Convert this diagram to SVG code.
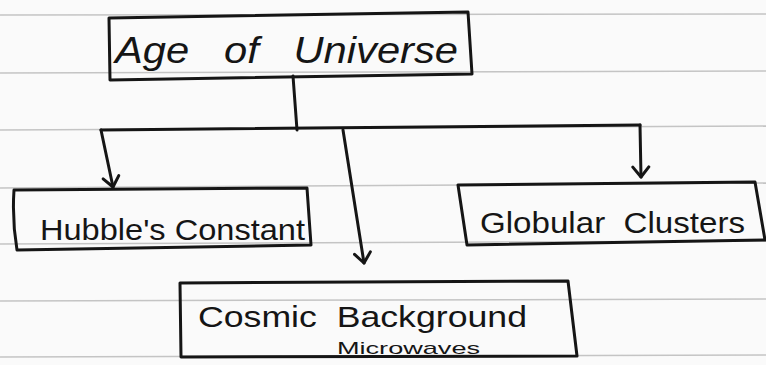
<svg xmlns="http://www.w3.org/2000/svg" width="766" height="365" viewBox="0 0 766 365">
<style>
.paper{stroke:#c4c4c4;stroke-width:1.5;fill:none}
.box{fill:none;stroke:#151515;stroke-width:3;stroke-linejoin:round}
.edge{fill:none;stroke:#151515;stroke-width:3;stroke-linecap:round}
.t{font-family:"Liberation Sans","DejaVu Sans",sans-serif;fill:#151515;white-space:pre}
</style>
<defs>
<marker id="arr" viewBox="0 0 20 20" refX="18" refY="10" markerWidth="20" markerHeight="20" markerUnits="userSpaceOnUse" orient="auto">
<path d="M8,2 L18,10 L8,18" fill="none" stroke="#151515" stroke-width="3" stroke-linecap="round" stroke-linejoin="round"/>
</marker>
</defs>
<rect width="766" height="365" fill="#fafafa"/>
<g id="paper-lines">
<line class="paper" x1="0" y1="15" x2="766" y2="14"/>
<line class="paper" x1="0" y1="73" x2="766" y2="71"/>
<line class="paper" x1="0" y1="130" x2="766" y2="126"/>
<line class="paper" x1="0" y1="188" x2="766" y2="183"/>
<line class="paper" x1="0" y1="244" x2="766" y2="241"/>
<line class="paper" x1="0" y1="301" x2="766" y2="299"/>
<line class="paper" x1="0" y1="357" x2="766" y2="355"/>
</g>
<g id="connectors">
<path class="edge" d="M293,76 L297,130"/>
<path class="edge" d="M101,130 L640,125"/>
<path class="edge" d="M101,130 L113,187" marker-end="url(#arr)"/>
<path class="edge" d="M343,130 L364,263" marker-end="url(#arr)"/>
<path class="edge" d="M640,125 L641,177" marker-end="url(#arr)"/>
</g>
<g id="age">
<path class="box" d="M109,18 L468,12 L472,74 L110,80 Z"/>
<text class="t" x="115" y="63" font-size="36" textLength="343" lengthAdjust="spacingAndGlyphs" font-style="italic">Age   of   Universe</text>
</g>
<g id="hubble">
<path class="box" d="M14,190 L307,188 L311,245 L17,250 Q12,220 14,190 Z"/>
<text class="t" x="40" y="240" font-size="30" textLength="265" lengthAdjust="spacingAndGlyphs">Hubble's Constant</text>
</g>
<g id="globular">
<path class="box" d="M458,185 L755,182 L765,240 L467,245 Z"/>
<text class="t" x="480" y="233" font-size="30" textLength="265" lengthAdjust="spacingAndGlyphs">Globular  Clusters</text>
</g>
<g id="cosmic">
<path class="box" d="M180,283 L568,281 L577,356 L181,357 Z"/>
<text class="t" x="198" y="327" font-size="30" textLength="329" lengthAdjust="spacingAndGlyphs">Cosmic  Background</text>
<text class="t" x="337" y="354" font-size="17" textLength="143" lengthAdjust="spacingAndGlyphs">Microwaves</text>
</g>
</svg>
